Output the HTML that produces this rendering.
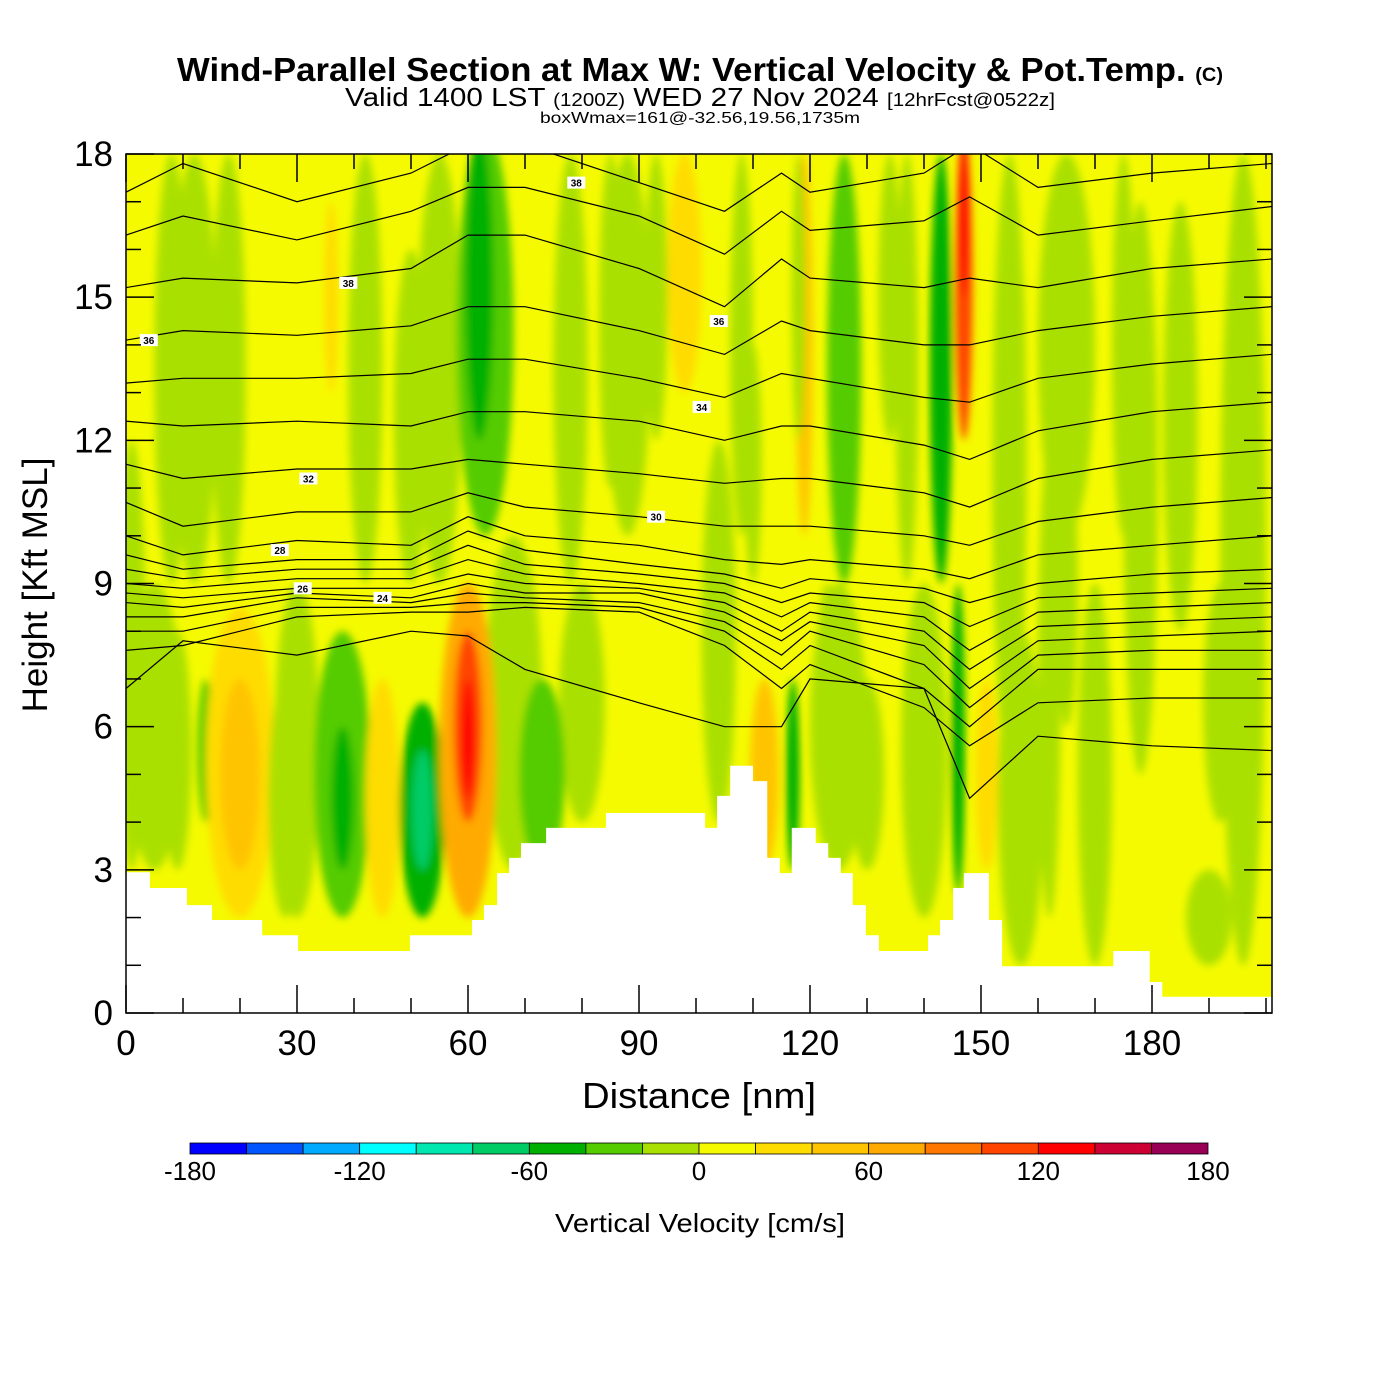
<!DOCTYPE html>
<html><head><meta charset="utf-8"><style>
body{margin:0;background:#fff}
svg{display:block;font-family:"Liberation Sans",sans-serif}
</style></head><body>
<svg id="chart" width="1400" height="1400" viewBox="0 0 1400 1400" xmlns="http://www.w3.org/2000/svg">
<defs>
<clipPath id="plotclip"><rect x="126" y="154" width="1146" height="859"/></clipPath>
<filter id="soft" x="-20%" y="-20%" width="140%" height="140%"><feGaussianBlur stdDeviation="4"/></filter>
</defs>
<text x="700" y="81" text-anchor="middle" font-size="33" font-weight="bold" textLength="1046" lengthAdjust="spacingAndGlyphs">Wind-Parallel Section at Max W: Vertical Velocity &amp; Pot.Temp. <tspan font-size="19">(C)</tspan></text>
<text x="700" y="106" text-anchor="middle" font-size="26" textLength="710" lengthAdjust="spacingAndGlyphs">Valid 1400 LST <tspan font-size="18">(1200Z)</tspan> WED 27 Nov 2024 <tspan font-size="18">[12hrFcst@0522z]</tspan></text>
<text x="700" y="123" text-anchor="middle" font-size="16" textLength="320" lengthAdjust="spacingAndGlyphs">boxWmax=161@-32.56,19.56,1735m</text>
<g id="field" clip-path="url(#plotclip)"></g>
<g id="terrain" clip-path="url(#plotclip)"></g>
<g id="isentropes" clip-path="url(#plotclip)"></g>
<g id="axes"></g>
<g id="colorbar"></g>
<text x="699" y="1108" text-anchor="middle" font-size="36" textLength="234" lengthAdjust="spacingAndGlyphs">Distance [nm]</text>
<text transform="translate(47,585) rotate(-90)" text-anchor="middle" font-size="35">Height [Kft MSL]</text>
<text x="700" y="1232" text-anchor="middle" font-size="26" textLength="290" lengthAdjust="spacingAndGlyphs">Vertical Velocity [cm/s]</text>
</svg>
<script>
// ---- data ----
const levels = [-180,-160,-140,-120,-100,-80,-60,-40,-20,0,20,40,60,80,100,120,140,160,180];
const levelColors = ["#0000ff","#0055ff","#00aaff","#00ffff","#00e8b0","#00cc66","#00b000","#55cc00","#aae000","#f5fa00","#ffdc00","#ffc400","#ffaa00","#ff7700","#ff4400","#ff0000","#cc0033","#990055"];
const colorTicks = [-180,-120,-60,0,60,120,180];
const xTicks = [0,30,60,90,120,150,180];
const yTicks = [0,3,6,9,12,15,18];
// streaks: distance, half-width (nm), bottom kft, top kft, w (cm/s)
const streakDist = [5,30,68,80,104,125,140,157,12,55,88,165,1,8,9,14,20,20,28,38,38,45,52,52,60,60,60,63,62,70,73,50,36,78,85,98,104,108,112,117,119,123,126,130,134,143,147,147,146,151,155,162,170,178,185,196,190,18,42,88,93,137,165,175,192,118,110];
const streakHalf = [5,4,5,4,3,5,4,4,4,4,4,5,2.5,3,2.5,1.5,6,3.5,3,5,2,3,4,1.8,5,2.5,1.2,5,2.5,3,4,3,1.2,3,2,3,2,2,2.5,1.2,1.5,2,3,3,2,2,1.5,0.8,1.2,2,3,2,3,3,3,4,4,3,3,3,2,2,2,2,3,1.2,1.5];
const streakBot = [3,2,3,4,4,3,2,1,9,9,10,10,3,9,3,4,2,3,2,2,3,2,2,3,2,4,4.5,10,12,4,3,9,13,9,11,13,4,10,3,3,10,4,9,3,12,9,12,15,2.5,3,5,2,1,5,8,1,1,9,9,10,12,9,6,10,4,12,9];
const streakTop = [9,9,10,9,12,9,9,8,18,18,18,18,12,18,8,7,8.5,7,7,8,6,7,6.5,5.5,9,8,7,18.5,18.5,9,7,16,17,18,18,18,12,18,7,7,18,9,18,7,18,18,18.5,18.5,9,7,18,12,9,17,17,18,3,18,18,18,18,18,12,18,9,18,14];
const streakW = [-10,-10,-10,-10,-10,-10,-10,-10,-10,-10,-10,-10,-10,-10,-10,-30,30,50,-10,-25,-50,30,-45,-75,60,110,135,-40,-60,-10,-30,-10,30,-10,-10,30,-10,-10,40,-45,40,-10,-35,-10,-10,-45,110,135,-60,30,-10,-10,-10,-10,-10,-10,-10,-10,-10,-10,-10,-10,-10,-10,-10,-10,-10];
// terrain steps: start distance (nm), height (kft)
const terrX = [0,4.2,10.7,15.1,23.9,30.2,49.8,60.7,62.8,65.1,67.2,69.3,73.7,84.2,101.6,103.7,106,110,112.5,114.7,116.8,121,123.2,125.4,127.5,129.8,132.1,140.7,142.8,145.1,147,151.4,153.7,173.2,179.6,181.8,201];
const terrH = [2.95,2.62,2.26,1.95,1.63,1.3,1.63,1.95,2.26,2.93,3.25,3.56,3.88,4.19,3.88,4.55,5.18,4.86,3.25,2.93,3.88,3.56,3.25,2.93,2.26,1.63,1.3,1.63,1.95,2.62,2.93,1.95,0.98,1.3,0.65,0.34];
// isentrope heights (kft) at nodes
const thetaNodes = [0,10,30,50,60,70,90,105,115,120,140,148,160,180,201];
const thetaLines = [
[17.2,17.8,17.0,17.6,18.2,18.2,17.4,16.8,17.6,17.2,17.6,18.2,17.3,17.6,17.8],
[16.3,16.7,16.2,16.8,17.3,17.3,16.7,15.9,16.8,16.4,16.6,17.1,16.3,16.6,16.9],
[15.2,15.4,15.3,15.6,16.3,16.3,15.6,14.8,15.8,15.4,15.2,15.4,15.2,15.6,15.8],
[14.1,14.3,14.2,14.4,14.8,14.8,14.3,13.8,14.5,14.3,14.0,14.0,14.3,14.6,14.8],
[13.2,13.3,13.3,13.4,13.7,13.7,13.3,12.9,13.4,13.3,12.9,12.8,13.3,13.6,13.8],
[12.4,12.3,12.4,12.3,12.6,12.6,12.4,12.0,12.3,12.3,11.9,11.6,12.2,12.6,12.8],
[11.5,11.2,11.4,11.4,11.6,11.5,11.3,11.1,11.2,11.2,10.9,10.6,11.2,11.6,11.8],
[10.7,10.2,10.5,10.5,10.9,10.6,10.4,10.2,10.2,10.2,10.0,9.8,10.3,10.6,10.8],
[10.0,9.6,9.9,9.8,10.4,10.0,9.8,9.5,9.4,9.5,9.3,9.1,9.6,9.8,10.0],
[9.6,9.3,9.5,9.5,10.1,9.7,9.4,9.2,8.9,9.1,8.9,8.6,9.0,9.2,9.3],
[9.3,9.1,9.3,9.3,9.8,9.4,9.2,9.0,8.6,8.8,8.6,8.1,8.7,8.8,8.9],
[9.0,8.9,9.1,9.1,9.5,9.2,9.0,8.8,8.3,8.6,8.3,7.6,8.4,8.5,8.6],
[8.8,8.7,8.9,8.9,9.2,9.0,8.9,8.6,8.0,8.4,8.0,7.2,8.1,8.2,8.3],
[8.6,8.5,8.8,8.7,9.0,8.8,8.8,8.4,7.8,8.2,7.7,6.8,7.8,7.9,8.0],
[8.3,8.3,8.7,8.6,8.8,8.7,8.6,8.2,7.5,8.0,7.3,6.4,7.5,7.6,7.6],
[8.0,8.0,8.5,8.5,8.6,8.6,8.5,8.0,7.2,7.7,6.8,6.0,7.2,7.2,7.2],
[7.6,7.7,8.3,8.4,8.4,8.5,8.4,7.7,6.8,7.3,6.4,5.6,6.5,6.6,6.6],
[6.8,7.8,7.5,8.0,7.9,7.2,6.5,6.0,6.0,7.0,6.8,4.5,5.8,5.6,5.5]
];
const thetaLabelText = ["38","38","36","36","34","32","30","28","26","24"];
const thetaLabelDist = [79,39,4,104,101,32,93,27,31,45];
const thetaLabelH = [17.4,15.3,14.1,14.5,12.7,11.2,10.4,9.7,8.9,8.7];

// ---- scales ----
const X0=126, X1=1272, Y0=1013, Y1=154;
const xs = d => X0 + d*(1026/180);
const ys = h => Y0 - h*(859/18);
const cbx = v => 190 + (v+180)*(1018/360);
const NS="http://www.w3.org/2000/svg";
function mk(tag, attrs, parent){const e=document.createElementNS(NS,tag);for(const k in attrs)e.setAttribute(k,attrs[k]);parent.appendChild(e);return e;}
function colorOf(w){for(let i=0;i<levelColors.length;i++){if(w<levels[i+1])return levelColors[i];}return levelColors[levelColors.length-1];}

// field
const field=document.getElementById('field');
const bg=mk('rect',{x:X0,y:Y1,width:X1-X0,height:Y0-Y1,fill:colorOf(10)},field);


const sg=mk('g',{filter:'url(#soft)'},field);
for(let i=0;i<streakDist.length;i++){
  const cx=xs(streakDist[i]), rx=xs(streakHalf[i])-X0;
  const yt=ys(streakTop[i]), yb=ys(streakBot[i]);
  const e=mk('ellipse',{cx:cx,cy:(yt+yb)/2,rx:rx,ry:(yb-yt)/2,fill:colorOf(streakW[i])},sg);
  
  
}

// terrain
let tp=`M${X0},${Y0+2}`;
for(let i=0;i<terrH.length;i++){tp+=` L${xs(terrX[i])},${ys(terrH[i])} L${xs(terrX[i+1])},${ys(terrH[i])}`;}
tp+=` L${X1},${Y0+2} Z`;
const terr=mk('path',{d:tp,fill:'#ffffff'},document.getElementById('terrain'));



// isentropes
const iso=document.getElementById('isentropes');
thetaLines.forEach(line=>{
  let d='';
  line.forEach((h,j)=>{d+=(j?' L':'M')+xs(thetaNodes[j]).toFixed(1)+','+ys(h).toFixed(1);});
  const p=mk('path',{d:d,fill:'none',stroke:'#000','stroke-width':1.2},iso);
  
  
});
thetaLabelText.forEach((t,i)=>{
  const x=xs(thetaLabelDist[i]), y=ys(thetaLabelH[i]);
  mk('rect',{x:x-9,y:y-6,width:18,height:12,fill:'#fff'},iso);
  const tx=mk('text',{x:x,y:y+4,'text-anchor':'middle','font-size':10,'font-weight':'bold'},iso);
  tx.textContent=t;
  
  
});

// axes
const ax=document.getElementById('axes');
const frame=mk('rect',{x:X0,y:Y1,width:X1-X0,height:Y0-Y1,fill:'none',stroke:'#000','stroke-width':1.5},ax);


for(let d=0;d<=200;d+=10){
  const big=d%30===0, L=big?28:15;
  mk('line',{x1:xs(d),x2:xs(d),y1:Y0,y2:Y0-L,stroke:'#000','stroke-width':1.5},ax);
  mk('line',{x1:xs(d),x2:xs(d),y1:Y1,y2:Y1+L,stroke:'#000','stroke-width':1.5},ax);
}
xTicks.forEach(v=>{
  const t=mk('text',{x:xs(v),y:1055,'text-anchor':'middle','font-size':35},ax);
  t.textContent=v;
  
  
});
for(let h=0;h<=18;h+=1){
  const big=h%3===0, L=big?28:15;
  mk('line',{x1:X0,x2:X0+L,y1:ys(h),y2:ys(h),stroke:'#000','stroke-width':1.5},ax);
  mk('line',{x1:X1,x2:X1-L,y1:ys(h),y2:ys(h),stroke:'#000','stroke-width':1.5},ax);
}
yTicks.forEach(v=>{
  const t=mk('text',{x:113,y:ys(v)+12,'text-anchor':'end','font-size':35},ax);
  t.textContent=v;
  
  
});

// colorbar
const cb=document.getElementById('colorbar');
for(let i=0;i<levelColors.length;i++){
  const r=mk('rect',{x:cbx(levels[i]),y:1143,width:cbx(levels[i+1])-cbx(levels[i]),height:11,fill:levelColors[i],stroke:'#000','stroke-width':0.8},cb);
  
  
}
colorTicks.forEach(v=>{
  const t=mk('text',{x:cbx(v),y:1180,'text-anchor':'middle','font-size':26},cb);
  t.textContent=v;
  
  
});
</script>
</body></html>
